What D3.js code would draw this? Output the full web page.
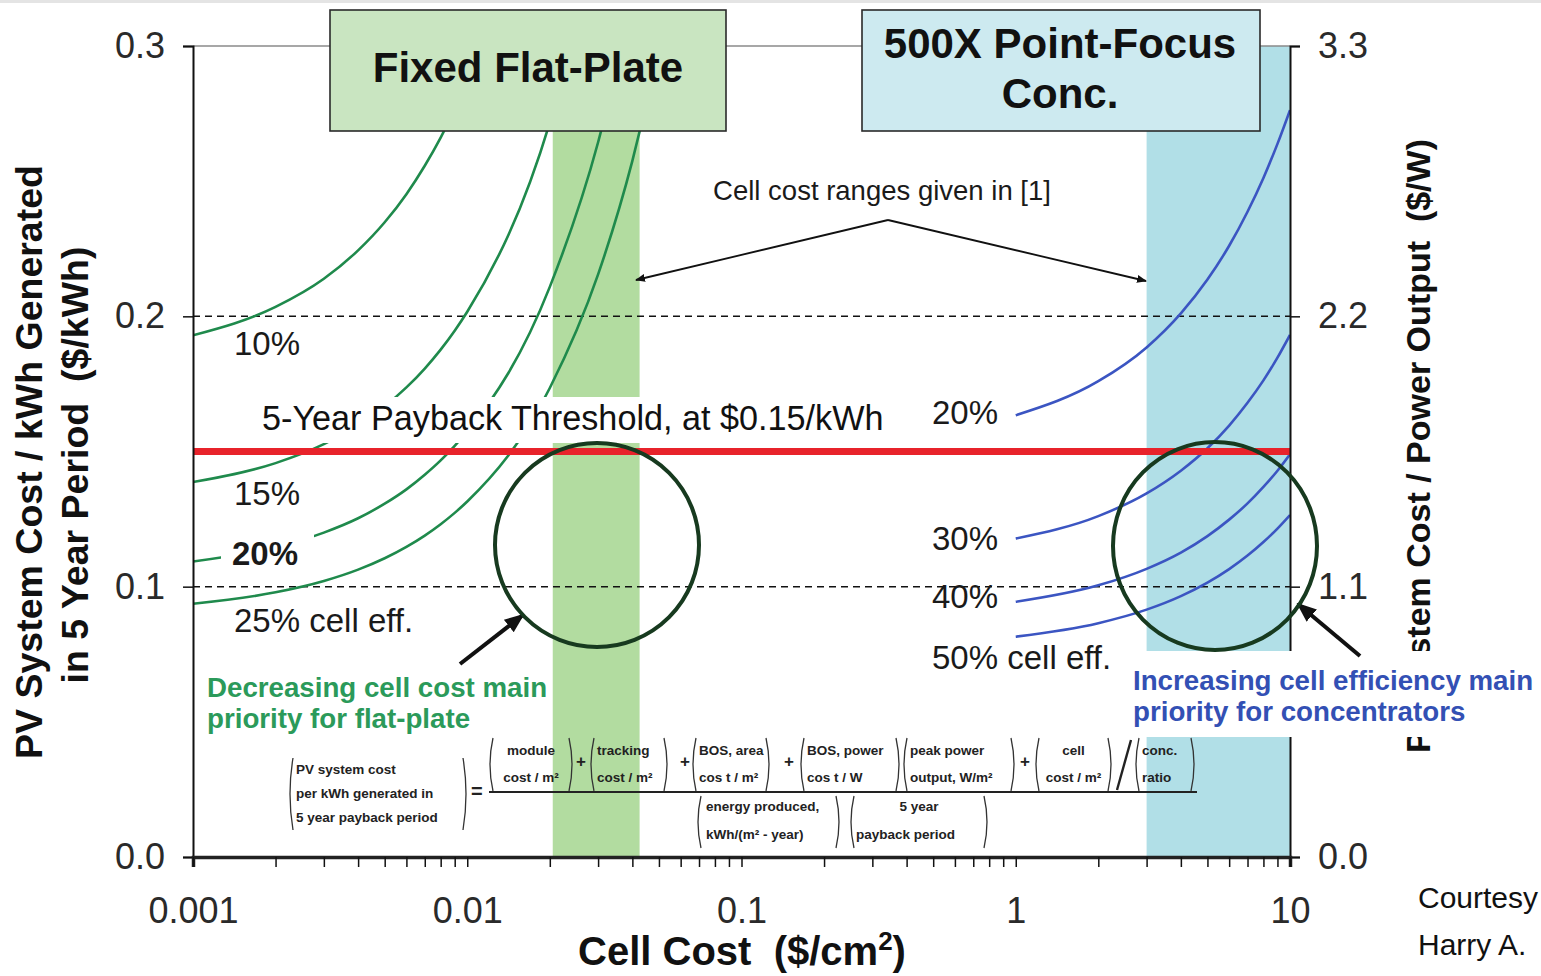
<!DOCTYPE html>
<html>
<head>
<meta charset="utf-8">
<script src="https://cdn.jsdelivr.net/npm/d3@7"></script>
<style>
  html, body { margin: 0; padding: 0; background: #fff; }
  svg { display: block; font-family: "Liberation Sans", Arial, sans-serif; }
  .pre { white-space: pre; }
</style>
</head>
<body>
<svg id="chart" width="1541" height="976"></svg>
<script>
// ---- data -------------------------------------------------------------
// Flat-plate curves: cell cost ($/cm^2) vs system cost per kWh ($/kWh)
const flatCost = [0.001, 0.002, 0.003, 0.004, 0.005, 0.006, 0.007, 0.008, 0.009, 0.01, 0.02, 0.03, 0.04, 0.05, 0.06];
const flat10 = [0.193, 0.2035, 0.2139, 0.2244, 0.2348, 0.2452, 0.2557, 0.2661, 0.2766, 0.287, 0.391];
const flat15 = [0.1387, 0.1457, 0.1527, 0.1597, 0.1667, 0.1737, 0.1807, 0.1877, 0.1947, 0.2017, 0.2717, 0.3417];
const flat20 = [0.1093, 0.1146, 0.1200, 0.1253, 0.1307, 0.1360, 0.1414, 0.1467, 0.1521, 0.1574, 0.2109, 0.2644, 0.3179];
const flat25 = [0.0937, 0.0979, 0.1021, 0.1063, 0.1105, 0.1147, 0.1189, 0.1231, 0.1273, 0.1315, 0.1735, 0.2155, 0.2575, 0.2995, 0.3415];

// 500X point-focus concentrator curves
const concCost = [1, 2, 3, 4, 5, 6, 7, 8, 9, 10];
const conc20 = [0.1634, 0.1760, 0.1885, 0.2011, 0.2136, 0.2261, 0.2387, 0.2512, 0.2638, 0.2763];
const conc30 = [0.1178, 0.1261, 0.1345, 0.1429, 0.1512, 0.1596, 0.1680, 0.1763, 0.1847, 0.1931];
const conc40 = [0.0944, 0.1005, 0.1066, 0.1126, 0.1187, 0.1248, 0.1308, 0.1369, 0.1429, 0.1490];
const conc50 = [0.0815, 0.0865, 0.0915, 0.0965, 0.1015, 0.1065, 0.1115, 0.1165, 0.1215, 0.1265];

const flatLabels = ["10%", "15%", "20%", "25% cell eff."];
const concLabels = ["20%", "30%", "40%", "50% cell eff."];

// cell cost ranges ($/cm^2)
const flatRange = [0.0205, 0.0425];
const concRange = [3, 10];

const threshold = 0.15;              // $/kWh
const leftTicks = [0, 0.1, 0.2, 0.3];
const rightTicks = [0, 1.1, 2.2, 3.3];
const xMajorTicks = [0.001, 0.01, 0.1, 1, 10];
const xTickLabels = ["0.001", "0.01", "0.1", "1", "10"];

// formula terms
const formulaLeft = ["PV system cost", "per kWh generated in", "5 year payback period"];
const formulaNum = [["module", "cost / m²"], ["tracking", "cost / m²"], ["BOS, area", "cos t / m²"],
                    ["BOS, power", "cos t / W"], ["peak power", "output, W/m²"], ["cell", "cost / m²"], ["conc.", "ratio"]];
const formulaDen = [["energy produced,", "kWh/(m² - year)"], ["5 year", "payback period"]];

// ---- scales -----------------------------------------------------------
const svg = d3.select("#chart");
const X0 = 193, X1 = 1290, Y0 = 857, Y1 = 46;
const x = d3.scaleLog().domain([0.001, 10]).range([X0, X1]);
const y = d3.scaleLinear().domain([0, 0.3]).range([Y0, Y1]);
const yR = d3.scaleLinear().domain([0, 3.3]).range([Y0, Y1]);

const GREEN = "#1f8a4c", BLUE = "#3b55c2", RED = "#e8232b";

// faint strip along the top edge
svg.append("rect").attr("x", 0).attr("y", 0).attr("width", 1541).attr("height", 3).attr("fill", "#e4e4e4");

svg.append("defs").append("clipPath").attr("id", "plot")
  .append("rect").attr("x", X0).attr("y", Y1).attr("width", X1 - X0).attr("height", Y0 - Y1);

// ---- shaded cost ranges ----------------------------------------------
svg.append("rect").attr("x", x(flatRange[0])).attr("y", Y1)
  .attr("width", x(flatRange[1]) - x(flatRange[0])).attr("height", Y0 - Y1).attr("fill", "#b2dca0");
svg.append("rect").attr("x", x(concRange[0])).attr("y", Y1)
  .attr("width", x(concRange[1]) - x(concRange[0])).attr("height", Y0 - Y1).attr("fill", "#b1dfe7");

// top frame line
svg.append("line").attr("x1", X0).attr("x2", X1).attr("y1", Y1).attr("y2", Y1)
  .attr("stroke", "#8a8a8a").attr("stroke-width", 1.5);

// dashed reference lines
[0.1, 0.2].forEach(v => {
  svg.append("line").attr("x1", X0).attr("x2", X1).attr("y1", y(v)).attr("y2", y(v))
    .attr("stroke", "#111").attr("stroke-width", 1.5).attr("stroke-dasharray", "7,5");
});

// ---- curves -----------------------------------------------------------
const line = d3.line().x(d => x(d[0])).y(d => y(d[1])).curve(d3.curveMonotoneX);
const curves = svg.append("g").attr("clip-path", "url(#plot)").attr("fill", "none").attr("stroke-width", 2.6);
[flat10, flat15, flat20, flat25].forEach(s => {
  curves.append("path").attr("d", line(s.map((v, i) => [flatCost[i], v]))).attr("stroke", GREEN);
});
[conc20, conc30, conc40, conc50].forEach(s => {
  curves.append("path").attr("d", line(s.map((v, i) => [concCost[i], v]))).attr("stroke", BLUE);
});

// payback threshold
svg.append("line").attr("x1", X0).attr("x2", X1).attr("y1", y(threshold)).attr("y2", y(threshold))
  .attr("stroke", RED).attr("stroke-width", 7);

// ---- axes -------------------------------------------------------------
const tickFont = g => g.selectAll("text").attr("font-size", 36).attr("fill", "#2a2a2a")
  .attr("font-family", "Liberation Sans, Arial, sans-serif");

const axL = svg.append("g").attr("transform", `translate(${X0},0)`)
  .call(d3.axisLeft(y).tickValues(leftTicks).tickFormat(d3.format(".1f")).tickSize(10).tickPadding(18));
axL.call(tickFont);
axL.select(".domain").attr("stroke", "#111").attr("stroke-width", 2);
axL.selectAll(".tick line").attr("stroke", "#111").attr("stroke-width", 1.5);

const axR = svg.append("g").attr("transform", `translate(${X1},0)`)
  .call(d3.axisRight(yR).tickValues(rightTicks).tickFormat(d3.format(".1f")).tickSize(10).tickPadding(18));
axR.call(tickFont);
axR.select(".domain").attr("stroke", "#111").attr("stroke-width", 2);
axR.selectAll(".tick line").attr("stroke", "#111").attr("stroke-width", 1.5);

// minor log ticks
const minor = [];
for (let e = -3; e < 1; e++) for (let m = 2; m <= 9; m++) minor.push(m * Math.pow(10, e));
const axB = svg.append("g").attr("transform", `translate(0,${Y0})`)
  .call(d3.axisBottom(x).tickValues(xMajorTicks.concat(minor)).tickSize(10).tickPadding(30)
    .tickFormat(d => { const i = xMajorTicks.indexOf(d); return i >= 0 ? xTickLabels[i] : ""; }));
axB.call(tickFont);
axB.select(".domain").attr("stroke", "#222").attr("stroke-width", 3.5);
axB.selectAll(".tick line").attr("stroke", "#111").attr("stroke-width", 1.5);

// axis titles
svg.append("text").attr("class", "pre").attr("transform", "translate(42,462) rotate(-90)")
  .attr("text-anchor", "middle").attr("font-weight", "bold").attr("font-size", 37.5).attr("fill", "#111")
  .text("PV System Cost / kWh Generated");
svg.append("text").attr("class", "pre").attr("transform", "translate(88,465) rotate(-90)")
  .attr("text-anchor", "middle").attr("font-weight", "bold").attr("font-size", 37.5).attr("fill", "#111")
  .text("in 5 Year Period  ($/kWh)");
svg.append("text").attr("class", "pre").attr("transform", "translate(1430,446) rotate(-90)")
  .attr("text-anchor", "middle").attr("font-weight", "bold").attr("font-size", 34).attr("fill", "#111")
  .text("PV System Cost / Power Output  ($/W)");

const xt = svg.append("text").attr("class", "pre").attr("x", 742).attr("y", 965).attr("text-anchor", "middle")
  .attr("font-weight", "bold").attr("font-size", 40).attr("fill", "#111");
xt.append("tspan").text("Cell Cost  ($/cm");
xt.append("tspan").attr("font-size", 26).attr("dy", -15).text("2");
xt.append("tspan").attr("dy", 15).text(")");

// ---- label backgrounds ------------------------------------------------
svg.append("rect").attr("x", 252).attr("y", 397).attr("width", 642).attr("height", 46).attr("fill", "#fff");
svg.append("rect").attr("x", 1128).attr("y", 651).attr("width", 413).attr("height", 86).attr("fill", "#fff");
svg.append("rect").attr("x", 221).attr("y", 530).attr("width", 93).attr("height", 42).attr("fill", "#fff");

// threshold label
svg.append("text").attr("x", 262).attr("y", 430).attr("font-size", 34.2).attr("fill", "#111")
  .text(`5-Year Payback Threshold, at $${threshold.toFixed(2)}/kWh`);

// efficiency labels
const flatLabelY = [355, 505, 565, 632];
flatLabels.forEach((t, i) => {
  svg.append("text").attr("x", i === 2 ? 232 : 234).attr("y", flatLabelY[i]).attr("font-size", 33)
    .attr("font-weight", i === 2 ? "bold" : "normal").attr("fill", "#1a1a1a").text(t);
});
const concLabelY = [424, 550, 608, 669];
concLabels.forEach((t, i) => {
  svg.append("text").attr("x", 932).attr("y", concLabelY[i]).attr("font-size", 33).attr("fill", "#1a1a1a").text(t);
});

// ---- annotations ------------------------------------------------------
const ann1 = svg.append("text").attr("font-weight", "bold").attr("font-size", 27.7).attr("fill", "#2b9a5a");
ann1.append("tspan").attr("x", 207).attr("y", 697).text("Decreasing cell cost main");
ann1.append("tspan").attr("x", 207).attr("y", 728).text("priority for flat-plate");
const ann2 = svg.append("text").attr("font-weight", "bold").attr("font-size", 27.7).attr("fill", "#3350b4");
ann2.append("tspan").attr("x", 1133).attr("y", 690).text("Increasing cell efficiency main");
ann2.append("tspan").attr("x", 1133).attr("y", 721).text("priority for concentrators");

svg.append("text").attr("x", 882).attr("y", 200).attr("text-anchor", "middle").attr("font-size", 27.5)
  .attr("fill", "#1a1a1a").text("Cell cost ranges given in [1]");

const defs = svg.select("defs");
defs.append("marker").attr("id", "headS").attr("viewBox", "0 0 10 10").attr("refX", 9).attr("refY", 5)
  .attr("markerWidth", 10).attr("markerHeight", 10).attr("markerUnits", "userSpaceOnUse").attr("orient", "auto")
  .append("path").attr("d", "M0,1 L10,5 L0,9 Z").attr("fill", "#111");
defs.append("marker").attr("id", "headL").attr("viewBox", "0 0 10 10").attr("refX", 9).attr("refY", 5)
  .attr("markerWidth", 20).attr("markerHeight", 20).attr("markerUnits", "userSpaceOnUse").attr("orient", "auto")
  .append("path").attr("d", "M0,1 L10,5 L0,9 Z").attr("fill", "#111");

[[636, 280], [1146, 281]].forEach(p => {
  svg.append("line").attr("x1", 888).attr("y1", 220).attr("x2", p[0]).attr("y2", p[1])
    .attr("stroke", "#111").attr("stroke-width", 1.8).attr("marker-end", "url(#headS)");
});
svg.append("line").attr("x1", 460).attr("y1", 664).attr("x2", 523).attr("y2", 615)
  .attr("stroke", "#111").attr("stroke-width", 4).attr("marker-end", "url(#headL)");
svg.append("line").attr("x1", 1360).attr("y1", 656).attr("x2", 1298).attr("y2", 604)
  .attr("stroke", "#111").attr("stroke-width", 4).attr("marker-end", "url(#headL)");

// highlight circles where curves cross the threshold inside the cost ranges
svg.append("ellipse").attr("cx", 597).attr("cy", 545).attr("rx", 102).attr("ry", 102)
  .attr("fill", "none").attr("stroke", "#173a1f").attr("stroke-width", 4);
svg.append("ellipse").attr("cx", 1215).attr("cy", 546).attr("rx", 102).attr("ry", 104)
  .attr("fill", "none").attr("stroke", "#173a1f").attr("stroke-width", 4);

// ---- header boxes -----------------------------------------------------
svg.append("rect").attr("x", 330).attr("y", 10).attr("width", 396).attr("height", 121)
  .attr("fill", "#c9e5c1").attr("stroke", "#2a2a2a").attr("stroke-width", 1.6);
svg.append("text").attr("x", 528).attr("y", 82).attr("text-anchor", "middle").attr("font-weight", "bold")
  .attr("font-size", 42).attr("fill", "#111").text("Fixed Flat-Plate");
svg.append("rect").attr("x", 862).attr("y", 10).attr("width", 398).attr("height", 121)
  .attr("fill", "#cdeaf0").attr("stroke", "#2a2a2a").attr("stroke-width", 1.6);
const hb = svg.append("text").attr("text-anchor", "middle").attr("font-weight", "bold").attr("font-size", 42).attr("fill", "#111");
hb.append("tspan").attr("x", 1060).attr("y", 58).text("500X Point-Focus");
hb.append("tspan").attr("x", 1060).attr("y", 108).text("Conc.");

// ---- formula ----------------------------------------------------------
const fg = svg.append("g").attr("font-size", 13.5).attr("font-weight", "bold").attr("fill", "#222");
const paren = (x0, x1, yt, yb) => {
  const m = (yt + yb) / 2;
  fg.append("path").attr("d", `M${x0 + 4},${yt} Q${x0 - 2},${m} ${x0 + 4},${yb}`)
    .attr("fill", "none").attr("stroke", "#333").attr("stroke-width", 1.3);
  fg.append("path").attr("d", `M${x1 - 4},${yt} Q${x1 + 2},${m} ${x1 - 4},${yb}`)
    .attr("fill", "none").attr("stroke", "#333").attr("stroke-width", 1.3);
};
// left-hand side
paren(289, 467, 758, 830);
formulaLeft.forEach((t, i) => fg.append("text").attr("x", 296).attr("y", 774 + i * 24).text(t));
fg.append("text").attr("x", 471).attr("y", 798).attr("font-size", 20).text("=");
// numerator
const numBox = [[489, 573, "middle"], [590, 668, "start"], [692, 770, "start"], [800, 900, "start"],
                [903, 1015, "start"], [1035, 1112, "middle"], [1135, 1195, "start"]];
formulaNum.forEach((t, i) => {
  const b = numBox[i];
  paren(b[0], b[1], 738, 791);
  const tx = b[2] === "middle" ? (b[0] + b[1]) / 2 : b[0] + 7;
  fg.append("text").attr("x", tx).attr("y", 755).attr("text-anchor", b[2]).text(t[0]);
  fg.append("text").attr("x", tx).attr("y", 782).attr("text-anchor", b[2]).text(t[1]);
});
[576, 680, 784, 1020].forEach(px => fg.append("text").attr("x", px).attr("y", 767).attr("font-size", 17).text("+"));
fg.append("line").attr("x1", 1117).attr("y1", 790).attr("x2", 1131).attr("y2", 740)
  .attr("stroke", "#222").attr("stroke-width", 2.4);
fg.append("line").attr("x1", 489).attr("x2", 1197).attr("y1", 792).attr("y2", 792)
  .attr("stroke", "#222").attr("stroke-width", 2);
// denominator
const denBox = [[697, 840, 706], [850, 988, 919]];
formulaDen.forEach((t, i) => {
  const b = denBox[i];
  paren(b[0], b[1], 796, 848);
  fg.append("text").attr("x", b[2]).attr("y", 811).attr("text-anchor", i === 1 ? "middle" : "start").text(t[0]);
  fg.append("text").attr("x", i === 1 ? 856 : b[2]).attr("y", 839).text(t[1]);
});

// credit
const cr = svg.append("text").attr("font-size", 30).attr("fill", "#111");
cr.append("tspan").attr("x", 1418).attr("y", 908).text("Courtesy");
cr.append("tspan").attr("x", 1418).attr("y", 955).text("Harry A.");
</script>
</body>
</html>
